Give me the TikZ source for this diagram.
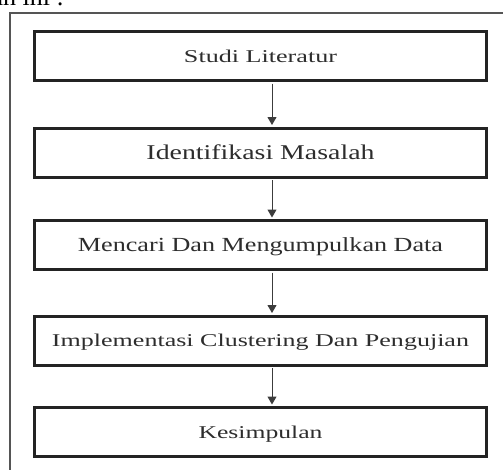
\documentclass[tikz,border=0pt]{standalone}
\usepackage{fontspec}
\setmainfont{Liberation Serif}
\usepackage{graphicx}
\usetikzlibrary{arrows.meta}
\definecolor{txt}{RGB}{45,45,45}
\definecolor{frame}{RGB}{85,85,85}
\definecolor{boxline}{RGB}{35,35,35}
\definecolor{arr}{RGB}{60,60,60}
\newcommand{\lbl}[3]{\resizebox{#1pt}{\height}{\fontsize{#2}{#2}\selectfont #3}}
\tikzset{
  stepbox/.style={draw=boxline, line width=3pt, minimum width=452pt, minimum height=49pt,
    inner sep=0pt, text=txt, text depth=0pt},
  flow/.style={draw=arr, line width=1pt, -{Triangle[width=9pt,length=8pt]},
    shorten <=1.5pt, shorten >=1.5pt}
}
\begin{document}
\begin{tikzpicture}[x=1pt,y=-1pt]
\useasboundingbox (0,0) rectangle (503,469);
\clip (0,0) rectangle (503,469);
\fill[white] (0,0) rectangle (503,469);
\node[anchor=base east, inner sep=0pt, text=black, font=\fontsize{26}{26}\selectfont] (frag) at (64,5.5) {bawah ini :};
\draw[frame, line width=1.5pt] (10,13) rectangle (530,490);
\node[stepbox, text height=12pt] (b1) at (260.5,56) {\lbl{153}{18}{Studi Literatur}};
\node[stepbox, text height=14pt] (b2) at (260.5,152.5) {\lbl{228}{21}{Identifikasi Masalah}};
\node[stepbox, text height=13pt] (b3) at (260.5,245) {\lbl{365}{20}{Mencari Dan Mengumpulkan Data}};
\node[stepbox, text height=12pt] (b4) at (260.5,340.5) {\lbl{417}{18}{Implementasi Clustering Dan Pengujian}};
\node[stepbox, text height=12pt] (b5) at (260.5,432) {\lbl{124}{18}{Kesimpulan}};
\draw[flow] ([xshift=11.5pt]b1.south) -- ([xshift=11.5pt]b2.north);
\draw[flow] ([xshift=11.5pt]b2.south) -- ([xshift=11.5pt]b3.north);
\draw[flow] ([xshift=11.5pt]b3.south) -- ([xshift=11.5pt]b4.north);
\draw[flow] ([xshift=11.5pt]b4.south) -- ([xshift=11.5pt]b5.north);
\end{tikzpicture}
\end{document}
